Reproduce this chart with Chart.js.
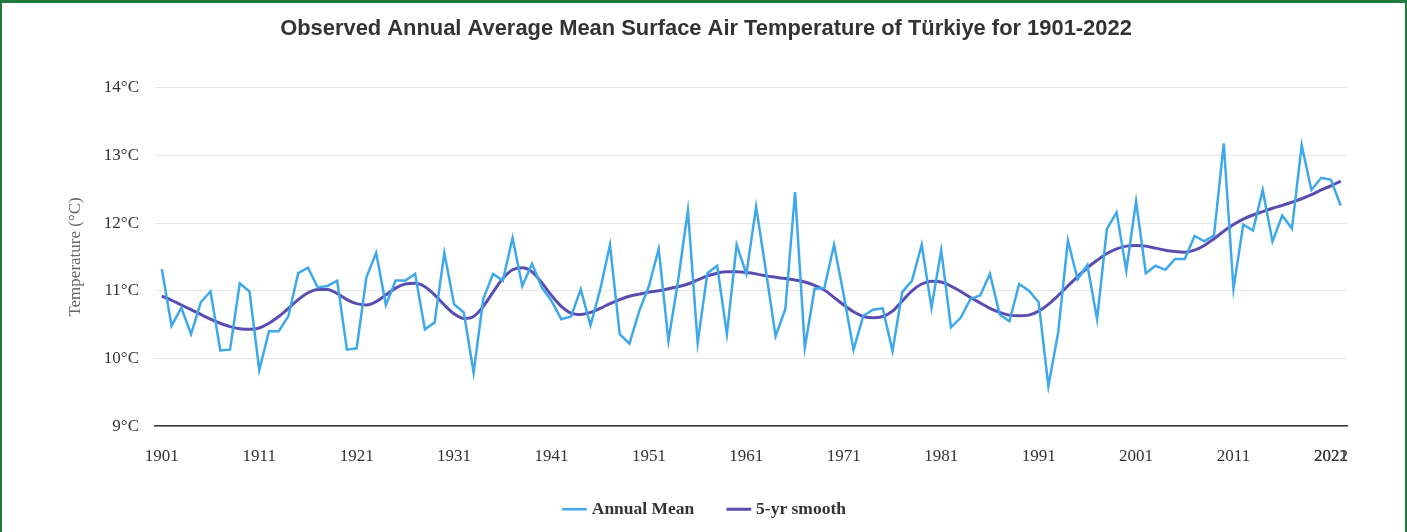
<!DOCTYPE html>
<html>
<head>
<meta charset="utf-8">
<script src="https://cdn.jsdelivr.net/npm/chart.js@4"></script>
<style>
  html, body { margin: 0; padding: 0; background: #fff; }
  #wrap {
    width: 1407px; height: 532px; box-sizing: border-box;
    border: 2px solid #1f7a3c; border-top-width: 3px; border-bottom: none;
  }
</style>
</head>
<body>
<div id="wrap"><canvas id="myChart"></canvas></div>
<script>
const years = [];
for (let y = 1901; y <= 2022; y++) years.push(y);

const annualMean = [
  11.32, 10.48, 10.75, 10.36, 10.83, 10.99, 10.12, 10.13, 11.11, 10.99,
  9.83, 10.40, 10.40, 10.63, 11.26, 11.34, 11.05, 11.07, 11.15, 10.13,
  10.15, 11.20, 11.56, 10.79, 11.15, 11.15, 11.25, 10.43, 10.53, 11.56,
  10.80, 10.68, 9.79, 10.88, 11.25, 11.15, 11.78, 11.07, 11.40, 11.05,
  10.85, 10.58, 10.62, 11.02, 10.49, 11.02, 11.68, 10.36, 10.22, 10.70,
  11.07, 11.62, 10.26, 11.16, 12.19, 10.23, 11.26, 11.37, 10.36, 11.68,
  11.25, 12.24, 11.30, 10.33, 10.73, 12.46, 10.16, 11.03, 11.04, 11.68,
  10.93, 10.13, 10.63, 10.72, 10.74, 10.11, 10.98, 11.15, 11.68, 10.75,
  11.60, 10.46, 10.60, 10.88, 10.93, 11.25, 10.65, 10.55, 11.10, 11.00,
  10.83, 9.59, 10.38, 11.74, 11.17, 11.38, 10.58, 11.91, 12.16, 11.30,
  12.32, 11.26, 11.37, 11.31, 11.47, 11.47, 11.81, 11.73, 11.82, 13.18,
  11.03, 11.98, 11.89, 12.49, 11.73, 12.11, 11.92, 13.15, 12.49, 12.67,
  12.64, 12.26
];

const smooth5yr = [
  10.92, 10.86, 10.79, 10.72, 10.65, 10.58, 10.52, 10.47, 10.44, 10.43,
  10.45, 10.52, 10.62, 10.74, 10.87, 10.97, 11.02, 11.02, 10.96, 10.87,
  10.81, 10.79, 10.84, 10.94, 11.04, 11.10, 11.11, 11.06, 10.94, 10.79,
  10.66, 10.59, 10.62, 10.77, 10.98, 11.18, 11.31, 11.34, 11.28, 11.12,
  10.93, 10.77, 10.67, 10.65, 10.68, 10.74, 10.81, 10.87, 10.92, 10.95,
  10.98, 11.00, 11.03, 11.06, 11.10, 11.16, 11.22, 11.26, 11.28, 11.28,
  11.27, 11.25, 11.22, 11.20, 11.18, 11.16, 11.13, 11.08, 11.01, 10.90,
  10.79, 10.69, 10.62, 10.60, 10.62, 10.70, 10.85, 11.00, 11.10, 11.14,
  11.13, 11.07, 10.99, 10.90, 10.82, 10.74, 10.68, 10.64, 10.63, 10.64,
  10.70, 10.80, 10.93, 11.07, 11.21, 11.34, 11.45, 11.55, 11.62, 11.66,
  11.67, 11.66, 11.63, 11.60, 11.58, 11.57, 11.60, 11.67, 11.77, 11.88,
  11.98, 12.06, 12.12, 12.17, 12.22, 12.26, 12.31, 12.36, 12.42, 12.49,
  12.55, 12.62
];

const xTickYears = [1901, 1911, 1921, 1931, 1941, 1951, 1961, 1971, 1981, 1991, 2001, 2011, 2021, 2022];
const yTicks = [9, 10, 11, 12, 13, 14];

const serif = '"Liberation Serif", "Times New Roman", serif';

const data = {
  datasets: [{
    label: 'Annual Mean',
    data: years.map((y, i) => ({ x: y, y: annualMean[i] })),
    borderColor: '#3ea8ea',
    backgroundColor: '#3ea8ea',
    borderWidth: 2.5,
    pointRadius: 0,
    tension: 0
  }, {
    label: '5-yr smooth',
    data: years.map((y, i) => ({ x: y, y: smooth5yr[i] })),
    borderColor: '#5a4db0',
    backgroundColor: '#5a4db0',
    borderWidth: 3,
    pointRadius: 0,
    cubicInterpolationMode: 'monotone'
  }]
};

const config = {
  type: 'line',
  data: data,
  options: {
    animation: false,
    maintainAspectRatio: false,
    responsive: true,
    layout: { padding: { left: 63, right: 58, top: 0, bottom: 4 } },
    scales: {
      x: {
        type: 'linear',
        min: 1900.3,
        max: 2022.65,
        // the last label (2022) is printed on top of 2021 like in the original
        afterBuildTicks: (scale) => {
          scale.ticks = xTickYears.map(v => ({ value: Math.min(v, 2021) }));
        },
        // labels may hang below the box, the legend sits a bit closer
        afterFit: (scale) => { scale.height -= 22; },
        ticks: {
          autoSkip: false,
          maxRotation: 0,
          padding: 20,
          color: '#333',
          font: { family: serif, size: 17 },
          callback: (v, i) => String(xTickYears[i])
        },
        grid: { display: false, drawTicks: false },
        border: { display: true, color: '#333', width: 1.5 }
      },
      y: {
        min: 9,
        max: 14,
        afterBuildTicks: (scale) => {
          scale.ticks = yTicks.map(v => ({ value: v }));
        },
        afterFit: (scale) => { scale.width = 90; },
        ticks: {
          padding: 16,
          color: '#333',
          font: { family: serif, size: 17 },
          callback: (v) => v + '°C'
        },
        grid: { color: '#e6e6e6', drawTicks: false },
        border: { display: false },
        title: {
          display: true,
          text: 'Temperature (°C)',
          color: '#666',
          font: { family: serif, size: 17 },
          padding: { top: 0, bottom: 0 }
        }
      }
    },
    plugins: {
      title: {
        display: true,
        text: 'Observed Annual Average Mean Surface Air Temperature of Türkiye for 1901-2022',
        color: '#333',
        font: { family: '"Liberation Sans", Arial, sans-serif', size: 21.9, weight: 'bold' },
        padding: { top: 13, bottom: 45.5 }
      },
      legend: {
        position: 'bottom',
        labels: {
          usePointStyle: true,
          pointStyle: 'line',
          boxWidth: 17,
          padding: 36,
          color: '#333',
          font: { family: serif, size: 17.5, weight: 'bold' }
        }
      },
      tooltip: { enabled: false }
    }
  }
};

const myChart = new Chart(
  document.getElementById('myChart'),
  config
);
</script>
</body>
</html>
